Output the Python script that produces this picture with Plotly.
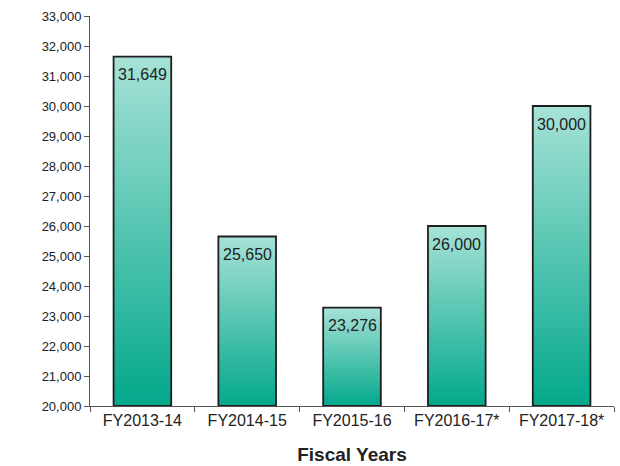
import plotly.graph_objects as go

categories = ["FY2013-14", "FY2014-15", "FY2015-16", "FY2016-17*", "FY2017-18*"]
values = [31649, 25650, 23276, 26000, 30000]
labels = ["31,649", "25,650", "23,276", "26,000", "30,000"]
y_ticks = list(range(20000, 33001, 1000))

BASE = 20000
BAR_W = 0.55
TOP_COLOR = "#a6e2d7"
BOTTOM_COLOR = "#03a88b"

positions = list(range(len(categories)))

fig = go.Figure()

# bars: gradient-filled, outlined polygons derived from the data
for i, v in zip(positions, values):
    x0, x1 = i - BAR_W / 2, i + BAR_W / 2
    fig.add_trace(go.Scatter(
        x=[x0, x1, x1, x0, x0],
        y=[BASE, BASE, v, v, BASE],
        mode="lines", line=dict(width=1.8, color="#1e1e1e"),
        fill="toself",
        fillgradient=dict(type="vertical",
                          colorscale=[[0, BOTTOM_COLOR], [1, TOP_COLOR]]),
        hoverinfo="skip", showlegend=False,
    ))

# value labels inside the top of each bar
for i, v, t in zip(positions, values, labels):
    fig.add_annotation(
        x=i, y=v, text=t, showarrow=False,
        xanchor="center", yanchor="middle", yshift=-18,
        font=dict(size=16, color="#222222", family="Liberation Sans, Arial"),
    )

fig.update_layout(
    width=620, height=466,
    margin=dict(l=90, r=6, t=16, b=60),
    plot_bgcolor="white", paper_bgcolor="white",
    font=dict(family="Liberation Sans, Arial", color="#333333"),
    xaxis=dict(
        range=[-0.5, len(categories) - 0.5], automargin=False,
        tickvals=positions, ticktext=categories, ticks="",
        minor=dict(tick0=-0.5, dtick=1, ticks="outside", ticklen=5,
                   tickcolor="#555555", showgrid=False),
        showline=True, linecolor="#555555", linewidth=1,
        tickfont=dict(size=16, color="#222222"),
        showgrid=False, zeroline=False,
        title=dict(text="<b>Fiscal Years</b>", font=dict(size=19, color="#222222"), standoff=19),
    ),
    yaxis=dict(
        range=[BASE, 33000], tickvals=y_ticks, tickformat=",d", automargin=False,
        showline=True, linecolor="#555555", linewidth=1,
        ticks="outside", ticklen=5, tickcolor="#555555",
        tickfont=dict(size=13, color="#222222"),
        showgrid=False, zeroline=False,
    ),
)

fig.write_html("out.html")
